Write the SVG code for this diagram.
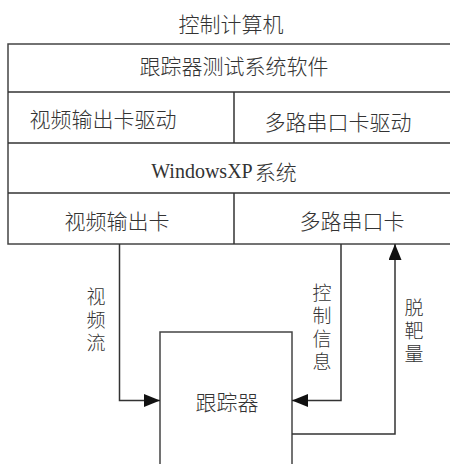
<svg xmlns="http://www.w3.org/2000/svg" width="450" height="464" viewBox="0 0 450 464">
<defs>
<style>
.t{font-family:"Noto Sans CJK SC","Noto Sans",sans-serif;font-size:21px;font-weight:300;fill:#333;text-anchor:middle;dominant-baseline:central}
.v{font-family:"Noto Sans CJK SC","Noto Sans",sans-serif;font-size:19px;font-weight:300;fill:#333;writing-mode:vertical-rl;text-anchor:start;letter-spacing:4px;dominant-baseline:central}
.w{font-family:"Liberation Serif","Noto Sans CJK SC",serif;font-size:20px}
.b{fill:#fff;stroke:#444;stroke-width:1.5}
.c{fill:none;stroke:#333;stroke-width:1.5}
</style>
<marker id="ah" markerUnits="userSpaceOnUse" markerWidth="17" markerHeight="13" refX="16" refY="6.5" orient="auto">
<path d="M0,0 L16,6.5 L0,13 Z" fill="#111"/>
</marker>
</defs>
<rect width="450" height="464" fill="#fff"/>
<text class="t" x="231" y="23">控制计算机</text>
<g id="computer">
<rect class="b" x="8" y="44" width="460" height="200"/>
<line class="c" x1="8" y1="92" x2="460" y2="92"/>
<line class="c" x1="8" y1="143" x2="460" y2="143"/>
<line class="c" x1="8" y1="193" x2="460" y2="193"/>
<line class="c" x1="234" y1="92" x2="234" y2="143"/>
<line class="c" x1="234" y1="193" x2="234" y2="244"/>
</g>
<g id="software"><text class="t" x="234" y="65">跟踪器测试系统软件</text></g>
<g id="video-driver"><text class="t" x="103" y="118">视频输出卡驱动</text></g>
<g id="serial-driver"><text class="t" x="338" y="121">多路串口卡驱动</text></g>
<g id="os"><text class="t w" x="224" y="171">WindowsXP<tspan font-family="Noto Sans CJK SC" font-size="21" dx="2">系统</tspan></text></g>
<g id="video-card"><text class="t" x="117" y="220">视频输出卡</text></g>
<g id="serial-card"><text class="t" x="352" y="220">多路串口卡</text></g>
<g id="tracker">
<rect class="b" x="160" y="332" width="132" height="150"/>
<text class="t" x="227" y="401">跟踪器</text>
</g>
<g id="connectors">
<polyline class="c" points="119.5,244 119.5,400.5 160,400.5" marker-end="url(#ah)"/>
<polyline class="c" points="341,244 341,400.5 292,400.5" marker-end="url(#ah)"/>
<polyline class="c" points="292,434 395,434 395,244" marker-end="url(#ah)"/>
<text id="label-video" class="v" x="96" y="287.5">视频流</text>
<text id="label-control" class="v" x="322" y="283.5">控制信息</text>
<text id="label-miss" class="v" x="414" y="298.5">脱靶量</text>
</g>
</svg>
